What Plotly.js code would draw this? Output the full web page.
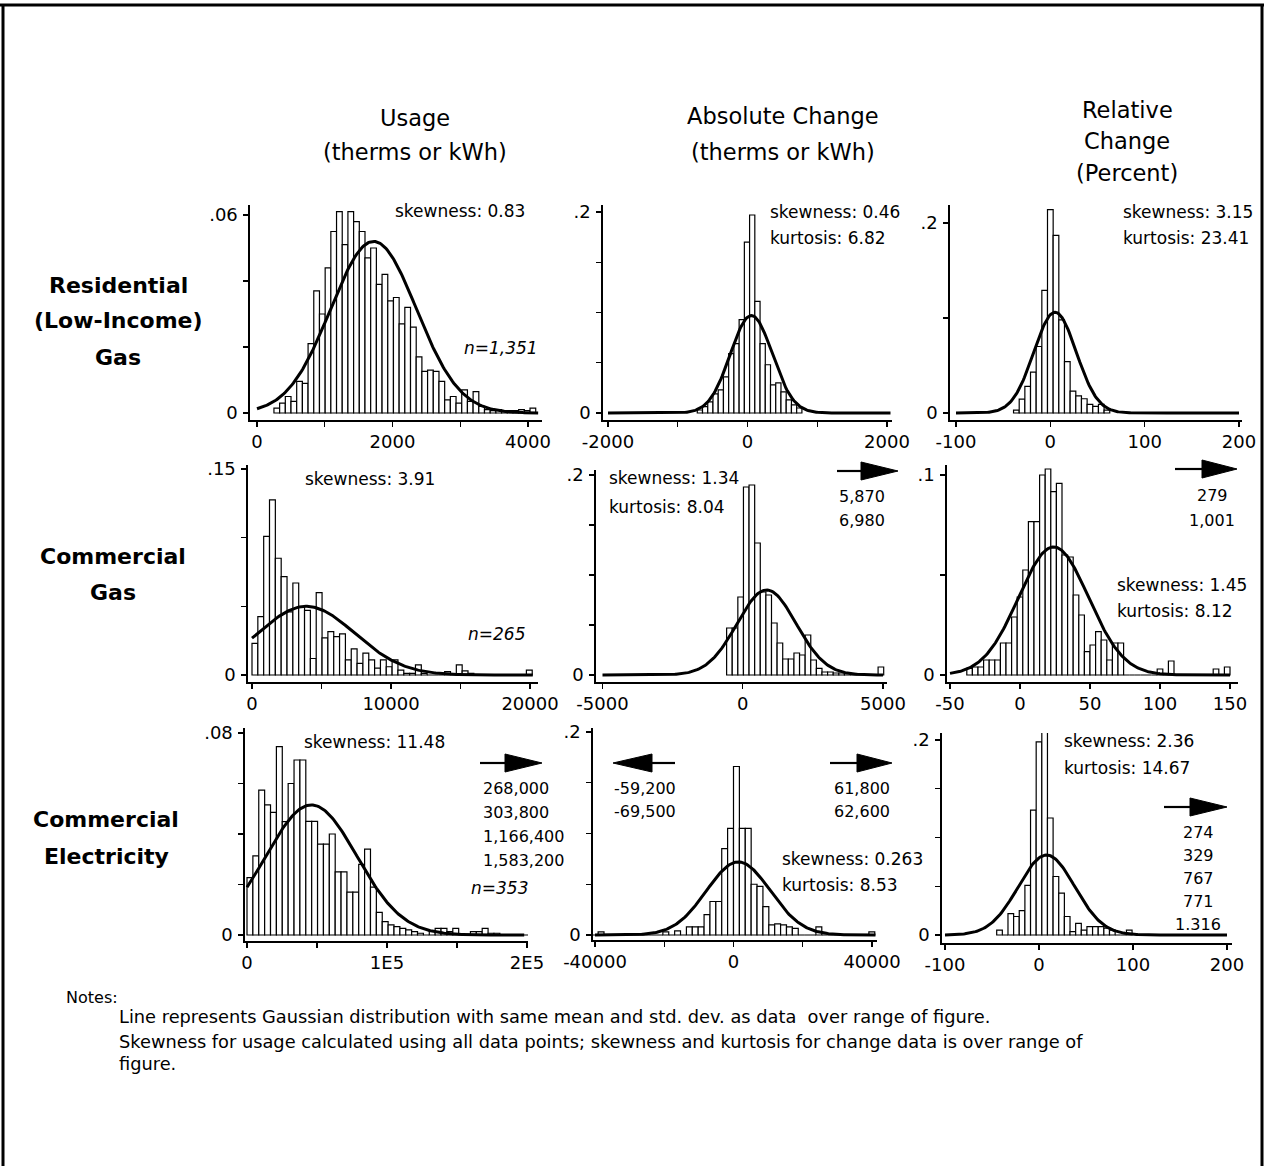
<!DOCTYPE html>
<html><head><meta charset="utf-8">
<script src="https://cdn.plot.ly/plotly-3.0.1.min.js"></script>
<style>html,body{margin:0;padding:0;background:#fff}</style>
</head><body><div id="chart" style="width:1266px;height:1166px"></div>
<script>
// ---------------- DATA ----------------
const columnTitles = [["Usage","(therms or kWh)"],["Absolute Change","(therms or kWh)"],["Relative","Change","(Percent)"]];
const rowTitles = [["Residential","(Low-Income)","Gas"],["Commercial","Gas"],["Commercial","Electricity"]];

// histogram bins: first bin edge, bin width, fraction per bin
const binStarts = [250, -720, -39, 0, -575, -38, 0, -40800, -45];
const binWidths = [84, 75, 6, 420, 200, 4, 4200, 1700, 6];
const h1 = [0.0015,0.003,0.005,0.0035,0.0096,0.009,0.021,0.037,0.030,0.044,0.055,0.061,0.051,0.061,0.058,0.055,0.047,0.050,0.039,0.042,0.034,0.035,0.027,0.032,0.026,0.017,0.0126,0.013,0.0126,0.0096,0.004,0.005,0.003,0.007,0.0035,0.0065,0.002,0.001,0.0007,0.001,0.0007,0.0007,0.0007,0.001,0.0007,0.0015];
const h2 = [0.003,0.0063,0.011,0.019,0.023,0.036,0.059,0.069,0.093,0.170,0.197,0.111,0.069,0.048,0.028,0.030,0.021,0.013,0.008,0.005];
const h3 = [0.003,0.0147,0.028,0.043,0.070,0.129,0.214,0.187,0.098,0.054,0.023,0.018,0.015,0.009,0.007,0.009,0.003];
const h4 = [0.023,0.0425,0.101,0.1275,0.085,0.0716,0.046,0.067,0.050,0.047,0.012,0.060,0.027,0.0316,0.028,0.030,0.011,0.019,0.0085,0.016,0.011,0.005,0.011,0.006,0.011,0.0036,0.0012,0.0012,0.0073,0.0012,0,0,0,0.0024,0,0.0073,0.003,0.0012,0,0,0,0,0,0,0,0,0,0.0036];
const h5 = [0.047,0.047,0.078,0.188,0.19,0.132,0.083,0.08,0.052,0.032,0.016,0.016,0.022,0.02,0.04,0.015,0.0067,0.003,0.003,0.002,0.002,0.002,0,0,0,0,0,0.008];
const h6 = [0.0033,0.004,0.004,0.0075,0.0075,0.0075,0.016,0.016,0.029,0.039,0.0525,0.0767,0.0767,0.1,0.103,0.0917,0.0958,0.06,0.059,0.04,0.03,0.0117,0.015,0.0217,0.0175,0.0075,0.016,0.016,0,0,0,0,0,0,0.003,0,0.007,0,0,0,0,0,0,0,0.003,0,0.004];
const h7 = [0.0227,0.0313,0.0574,0.0515,0.0486,0.0746,0.0449,0.060,0.0693,0.0693,0.045,0.045,0.036,0.036,0.040,0.025,0.025,0.017,0.017,0.028,0.034,0.019,0.009,0.0053,0.004,0.0033,0.0026,0.002,0.0013,0.0007,0,0.0015,0.0026,0.0026,0.0013,0.0026,0,0,0.0013,0.0013,0.0026,0.0007,0.0007,0,0,0,0,0];
const h8 = [0,0.003,0,0,0,0,0,0,0,0,0,0,0.003,0,0.004,0,0.008,0.008,0.008,0.02,0.033,0.033,0.085,0.105,0.166,0.105,0.105,0.05,0.048,0.028,0.01,0.011,0.01,0.008,0.0065,0,0,0,0.008,0,0,0,0,0,0,0,0,0.003];
const h9 = [0.005,0,0.022,0.019,0.025,0.051,0.128,0.198,0.2085,0.12,0.06,0.043,0.019,0.0034,0.012,0.005,0.0085,0.0085,0.0085,0.007,0.005,0,0,0.005];
const heights = [h1,h2,h3,h4,h5,h6,h7,h8,h9];

// Gaussian overlay: mean, std. dev., peak (fraction), drawn over range of figure
const gaussMeans = [1720, 55, 5, 3900, 850, 24, 46000, 1400, 8];
const gaussSDs = [633, 300, 22.5, 3500, 1050, 25, 32500, 9200, 30];
const gaussPeaks = [0.052, 0.097, 0.106, 0.05, 0.085, 0.064, 0.0515, 0.072, 0.082];
const gaussFrom = [0, -2000, -100, 0, -5000, -50, 0, -40000, -100];
const gaussTo = [4150, 2050, 200, 20200, 5000, 150, 198000, 41000, 200];

// tick values and labels
const xTickVals = [[0,1000,2000,3000,4000],[-2000,-1000,0,1000,2000],[-100,0,100,200],[0,5000,10000,15000,20000],[-5000,0,5000],[-50,0,50,100,150],[0,50000,100000,150000,200000],[-40000,-20000,0,20000,40000],[-100,0,100,200]];
const xTickText = [["0","","2000","","4000"],["-2000","","0","","2000"],["-100","0","100","200"],["0","","10000","","20000"],["-5000","0","5000"],["-50","0","50","100","150"],["0","","1E5","","2E5"],["-40000","","0","","40000"],["-100","0","100","200"]];
const yTickVals = [[0,.02,.04,.06],[0,.05,.1,.15,.2],[0,.1,.2],[0,.05,.1,.15],[0,.05,.1,.15,.2],[0,.05,.1],[0,.02,.04,.06,.08],[0,.05,.1,.15,.2],[0,.05,.1,.15,.2]];
const yTickText = [["0","","",".06"],["0","","","",".2"],["0","",".2"],["0","","",".15"],["0","","","",".2"],["0","",".1"],["0","","","",".08"],["0","","","",".2"],["0","","","",".2"]];

// statistics text
const statLines = [["skewness: 0.83"],["skewness: 0.46","kurtosis: 6.82"],["skewness: 3.15","kurtosis: 23.41"],["skewness: 3.91"],["skewness: 1.34","kurtosis: 8.04"],["skewness: 1.45","kurtosis: 8.12"],["skewness: 11.48"],["skewness: 0.263","kurtosis: 8.53"],["skewness: 2.36","kurtosis: 14.67"]];
const sampleSizes = ["n=1,351", null, null, "n=265", null, null, "n=353", null, null];
const outliersRight = [null, null, null, null, ["5,870","6,980"], ["279","1,001"], ["268,000","303,800","1,166,400","1,583,200"], ["61,800","62,600"], ["274","329","767","771","1.316"]];
const outliersLeft = [null, null, null, null, null, null, null, ["-59,200","-69,500"], null];
const notesLines = ["Line represents Gaussian distribution with same mean and std. dev. as data  over range of figure.","Skewness for usage calculated using all data points; skewness and kurtosis for change data is over range of","figure."];

// ---------------- LAYOUT ----------------
const W = 1266, H = 1166;
const FONT = "DejaVu Sans, Liberation Sans, Arial, sans-serif";
const fx = p => p / W, fy = p => 1 - p / H;

// pixel boxes and calibration (value,pixel) pairs for each panel
const boxes = [
  {L:250,R:542,T:205,B:420, xc:[0,257,4000,528], yc:[0,413,.06,215]},
  {L:603,R:892,T:205,B:420, xc:[-2000,608,2000,887], yc:[0,413,.2,212]},
  {L:950,R:1242,T:205,B:420, xc:[-100,956,200,1239], yc:[0,413,.2,223]},
  {L:248,R:538,T:465,B:682, xc:[0,252,20000,530], yc:[0,675,.15,469]},
  {L:596,R:887,T:470,B:682, xc:[-5000,602.5,5000,883], yc:[0,675,.2,475]},
  {L:947,R:1238,T:465,B:682, xc:[-50,950,150,1230], yc:[0,675,.1,475]},
  {L:245,R:528,T:728,B:941, xc:[0,247,200000,527], yc:[0,935,.08,733]},
  {L:593,R:877,T:728,B:940, xc:[-40000,595,40000,872], yc:[0,935,.2,732]},
  {L:942,R:1232,T:733,B:943, xc:[-100,945,200,1227], yc:[0,935,.2,740]}
];

const traces = [];
const layout = {
  width: W, height: H, margin: {l:0,r:0,t:0,b:0},
  paper_bgcolor: "white", plot_bgcolor: "rgba(0,0,0,0)",
  showlegend: false, barmode: "overlay",
  font: {family: FONT, color: "black"},
  annotations: [], shapes: []
};

boxes.forEach((b, i) => {
  const n = i === 0 ? "" : String(i + 1);
  const sx = (b.xc[3] - b.xc[1]) / (b.xc[2] - b.xc[0]);
  const sy = (b.yc[3] - b.yc[1]) / (b.yc[2] - b.yc[0]);
  const xr = [b.xc[0] + (b.L - b.xc[1]) / sx, b.xc[0] + (b.R - b.xc[1]) / sx];
  const yr = [b.yc[0] + (b.B - b.yc[1]) / sy, b.yc[0] + (b.T - b.yc[1]) / sy];
  const axCommon = {
    showgrid: false, zeroline: false, showline: true, linecolor: "black", linewidth: 1.6,
    ticks: "outside", ticklen: 5, tickwidth: 1.4, tickcolor: "black",
    tickfont: {family: FONT, size: 18, color: "black"}, fixedrange: true, tickmode: "array"
  };
  layout["xaxis" + n] = Object.assign({}, axCommon, {
    domain: [fx(b.L), fx(b.R)], range: xr, anchor: "y" + n,
    tickvals: xTickVals[i], ticktext: xTickText[i]
  });
  layout["yaxis" + n] = Object.assign({}, axCommon, {
    domain: [fy(b.B), fy(b.T)], range: yr, anchor: "x" + n,
    tickvals: yTickVals[i], ticktext: yTickText[i], ticklabelstandoff: 2
  });
  const hs = heights[i];
  const centers = hs.map((_, k) => binStarts[i] + (k + 0.5) * binWidths[i]);
  traces.push({
    type: "bar", x: centers, y: hs, width: binWidths[i],
    marker: {color: "white", line: {color: "black", width: 1.2}},
    xaxis: "x" + n, yaxis: "y" + n, hoverinfo: "skip"
  });
  // Gaussian with same mean and std. dev. as data
  const gx = [], gy = [];
  const N = 240;
  for (let k = 0; k <= N; k++) {
    const v = gaussFrom[i] + (gaussTo[i] - gaussFrom[i]) * k / N;
    const z = (v - gaussMeans[i]) / gaussSDs[i];
    gx.push(v); gy.push(gaussPeaks[i] * Math.exp(-0.5 * z * z));
  }
  traces.push({
    type: "scatter", mode: "lines", x: gx, y: gy,
    line: {color: "black", width: 3}, xaxis: "x" + n, yaxis: "y" + n, hoverinfo: "skip"
  });
});

function txt(text, x, y, opts) {
  opts = opts || {};
  layout.annotations.push({
    text: text, xref: "paper", yref: "paper", x: fx(x), y: fy(y),
    xanchor: opts.anchor || "left", yanchor: "middle", showarrow: false,
    font: {family: FONT, size: opts.size || 17, color: "black"}
  });
}

// column titles
const colCenters = [415, 783, 1127];
const colY = [[118,152],[116,152],[110,141,173]];
columnTitles.forEach((lines, c) => lines.forEach((t, k) => txt(t, colCenters[c], colY[c][k], {anchor:"center", size:22.5})));
// row titles (bold)
const rowCenters = [118, 113, 106];
const rowY = [[285,321,357],[557,592],[819,856]];
rowTitles.forEach((lines, r) => lines.forEach((t, k) => txt("<b>" + t + "</b>", rowCenters[r], rowY[r][k], {anchor:"center", size:22})));

// statistics positions
const statPos = [
  {x:393,y:[211],a:"left"}, {x:768,y:[212,238],a:"left"}, {x:1121,y:[212,238],a:"left"},
  {x:370,y:[479],a:"center"}, {x:607,y:[478,507],a:"left"}, {x:1115,y:[585,611],a:"left"},
  {x:374,y:[742],a:"center"}, {x:780,y:[859,885],a:"left"}, {x:1062,y:[741,768],a:"left"}
];
statLines.forEach((lines, i) => lines.forEach((t, k) => txt(t, statPos[i].x, statPos[i].y[k], {anchor: statPos[i].a, size:17})));

const nPos = [{x:462,y:348},null,null,{x:466,y:634},null,null,{x:469,y:888},null,null];
sampleSizes.forEach((t, i) => { if (t) txt("<i>" + t + "</i>", nPos[i].x, nPos[i].y, {size:17}); });

// outlier lists
const outRightPos = [null,null,null,null,
  {x:862,y0:497,dy:23,a:"center"}, {x:1212,y0:495,dy:25,a:"center"},
  {x:481,y0:788,dy:24,a:"left"}, {x:832,y0:788,dy:23,a:"left"},
  {x:1198,y0:832,dy:23.2,a:"center"}];
outliersRight.forEach((list, i) => { if (list) list.forEach((t, k) => txt(t, outRightPos[i].x, outRightPos[i].y0 + k * outRightPos[i].dy, {anchor: outRightPos[i].a, size:16})); });
const outLeftPos = [null,null,null,null,null,null,null,{x:612,y0:788,dy:23},null];
outliersLeft.forEach((list, i) => { if (list) list.forEach((t, k) => txt(t, outLeftPos[i].x, outLeftPos[i].y0 + k * outLeftPos[i].dy, {size:16})); });

// arrows
function arrowRight(x0, xm, x1, y) {
  layout.shapes.push({type:"line", xref:"paper", yref:"paper", x0:fx(x0), x1:fx(xm+2), y0:fy(y), y1:fy(y), line:{color:"black", width:2.2}});
  layout.shapes.push({type:"path", xref:"paper", yref:"paper",
    path:`M ${fx(xm)},${fy(y-9)} L ${fx(x1)},${fy(y)} L ${fx(xm)},${fy(y+9)} Z`, fillcolor:"black", line:{color:"black", width:1}});
}
function arrowLeft(x0, xm, x1, y) {
  layout.shapes.push({type:"line", xref:"paper", yref:"paper", x0:fx(xm-2), x1:fx(x1), y0:fy(y), y1:fy(y), line:{color:"black", width:2.2}});
  layout.shapes.push({type:"path", xref:"paper", yref:"paper",
    path:`M ${fx(xm)},${fy(y-9)} L ${fx(x0)},${fy(y)} L ${fx(xm)},${fy(y+9)} Z`, fillcolor:"black", line:{color:"black", width:1}});
}
arrowRight(837, 861, 898, 471);
arrowRight(1175, 1202, 1237, 469);
arrowRight(480, 505, 542, 763);
arrowLeft(613, 652, 675, 763);
arrowRight(830, 857, 892, 763);
arrowRight(1164, 1190, 1227, 807);

// notes
txt("Notes:", 64, 997, {size:16});
const noteY = [1016, 1041, 1063];
notesLines.forEach((t, k) => txt(t, 117, noteY[k], {size:17.8}));

// page frame
layout.shapes.push({type:"line", xref:"paper", yref:"paper", x0:0, x1:fx(1264), y0:fy(5), y1:fy(5), line:{color:"black", width:3}});
layout.shapes.push({type:"line", xref:"paper", yref:"paper", x0:fx(3), x1:fx(3), y0:fy(4), y1:0, line:{color:"black", width:3}});
layout.shapes.push({type:"line", xref:"paper", yref:"paper", x0:fx(1262), x1:fx(1262), y0:fy(4), y1:0, line:{color:"black", width:3}});

Plotly.newPlot("chart", traces, layout, {staticPlot: true, displayModeBar: false});
</script>
</body></html>
